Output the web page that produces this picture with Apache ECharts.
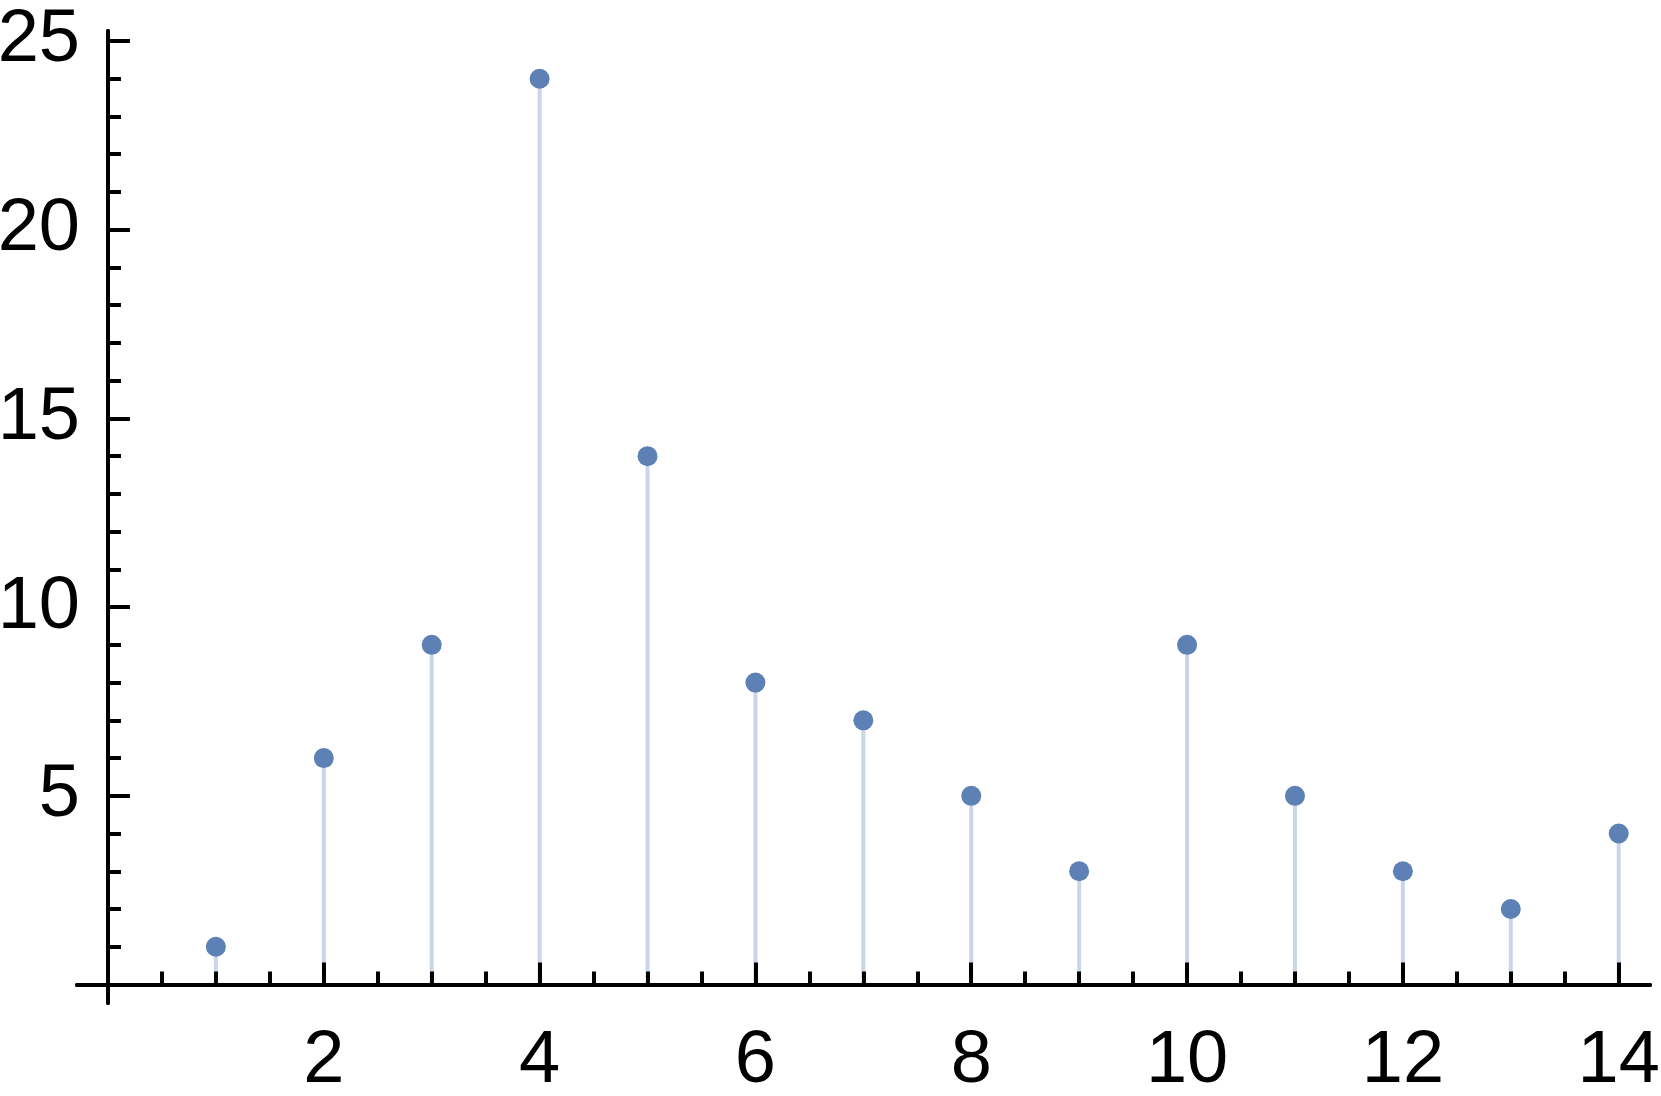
<!DOCTYPE html>
<html><head><meta charset="utf-8">
<script src="https://cdn.jsdelivr.net/npm/echarts@6/dist/echarts.min.js"></script>
<style>html,body{margin:0;padding:0;background:#fff}#c{width:1661px;height:1096px}</style>
</head><body><div id="c"></div>
<script>
const xValues = [1, 2, 3, 4, 5, 6, 7, 8, 9, 10, 11, 12, 13, 14];
const yValues = [1, 6, 9, 24, 14, 8, 7, 5, 3, 9, 5, 3, 2, 4];
const xMajorTicks = [2, 4, 6, 8, 10, 12, 14];
const xMinorTicks = [0.5, 1, 1.5, 2.5, 3, 3.5, 4.5, 5, 5.5, 6.5, 7, 7.5, 8.5, 9, 9.5, 10.5, 11, 11.5, 12.5, 13, 13.5];
const yMajorTicks = [5, 10, 15, 20, 25];
const yMinorTicks = [1, 2, 3, 4, 6, 7, 8, 9, 11, 12, 13, 14, 16, 17, 18, 19, 21, 22, 23, 24];

const X_MIN = -0.287, X_MAX = 14.29, Y_MIN = -0.49, Y_MAX = 25.265;
const FONT = { fontSize: 74, color: '#000', fontFamily: 'Liberation Sans, Arial, sans-serif' };
const gridRect = { left: 77, right: 11, top: 31, bottom: 93, containLabel: false, outerBoundsMode: 'none' };

function xAxisCfg(gridIndex, ticks, len, withLabels) {
  return {
    type: 'value', gridIndex, min: X_MIN, max: X_MAX, position: 'bottom', z: 2,
    axisLine: { show: true, onZero: true, lineStyle: { color: '#000', width: 4 } },
    axisTick: { show: true, inside: true, length: len, customValues: ticks, lineStyle: { color: '#000', width: 4 } },
    axisLabel: withLabels ? Object.assign({ show: true, customValues: xMajorTicks, margin: 22 }, FONT) : { show: false },
    splitLine: { show: false }, minorTick: { show: false }
  };
}
function yAxisCfg(gridIndex, ticks, len, withLabels) {
  return {
    type: 'value', gridIndex, min: Y_MIN, max: Y_MAX, position: 'left', z: 2,
    axisLine: { show: true, onZero: true, lineStyle: { color: '#000', width: 4 } },
    axisTick: { show: true, inside: true, length: len, customValues: ticks, lineStyle: { color: '#000', width: 4 } },
    axisLabel: withLabels ? Object.assign({ show: true, customValues: yMajorTicks, margin: -3 }, FONT) : { show: false },
    splitLine: { show: false }, minorTick: { show: false }
  };
}

const points = xValues.map((x, i) => [x, yValues[i]]);

const chart = echarts.init(document.getElementById('c'), null, { renderer: 'canvas' });
chart.setOption({
  animation: false,
  backgroundColor: '#fff',
  grid: [Object.assign({}, gridRect), Object.assign({}, gridRect)],
  xAxis: [xAxisCfg(0, xMajorTicks, 22, true), xAxisCfg(1, xMinorTicks, 13, false)],
  yAxis: [yAxisCfg(0, yMajorTicks, 22, true), yAxisCfg(1, yMinorTicks, 13, false)],
  series: [
    { type: 'bar', xAxisIndex: 0, yAxisIndex: 0, data: points, barWidth: 4, z: 1,
      itemStyle: { color: '#C9D6EA' }, silent: true },
    { type: 'scatter', xAxisIndex: 0, yAxisIndex: 0, data: points, symbol: 'circle', symbolSize: 20, z: 3,
      itemStyle: { color: '#5E81B5', opacity: 1 } }
  ]
});
</script>
</body></html>
